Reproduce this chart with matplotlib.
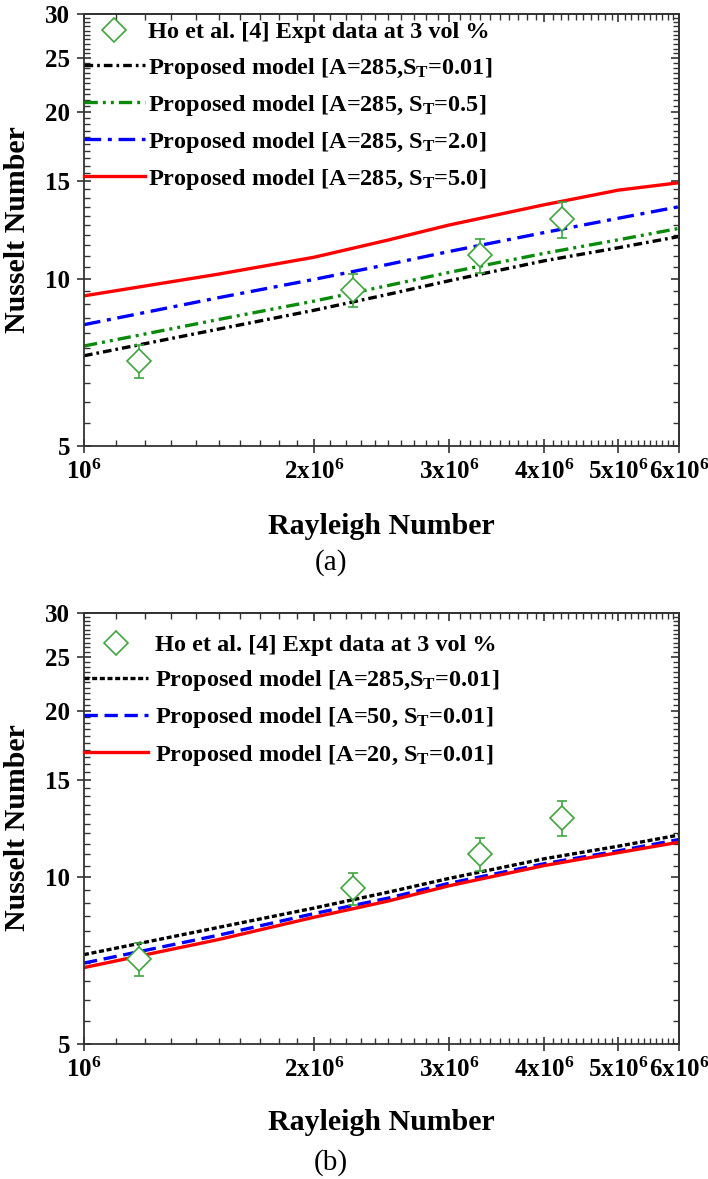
import numpy as np
import matplotlib
matplotlib.use("Agg")
import matplotlib.pyplot as plt
from matplotlib.ticker import FixedLocator, FixedFormatter, NullFormatter

plt.rcParams["font.family"] = "Liberation Serif"
plt.rcParams["font.weight"] = "bold"
plt.rcParams["mathtext.fontset"] = "custom"
plt.rcParams["mathtext.rm"] = "Liberation Serif:bold"
plt.rcParams["mathtext.bf"] = "Liberation Serif:bold"
plt.rcParams["mathtext.it"] = "Liberation Serif:bold:italic"

# experimental points (Ho et al., 3 vol %)
ra_exp = np.array([1.18, 2.25, 3.3, 4.22]) * 1e6
nu_exp = [7.12, 9.55, 11.02, 12.8]
nu_err = [0.49, 0.64, 0.77, 0.93]

# model curves, sampled along Ra
ra_model = np.array([1.0, 1.5, 2.0, 2.5, 3.0, 4.0, 5.0, 6.0]) * 1e6
# panel (a): A=285, varying S_T
nu_st001 = [7.27, 8.12, 8.78, 9.38, 9.92, 10.78, 11.38, 11.92]
nu_st05 = [7.57, 8.45, 9.12, 9.73, 10.27, 11.12, 11.76, 12.33]
nu_st2 = [8.27, 9.25, 9.98, 10.62, 11.2, 12.12, 12.86, 13.49]
nu_st5 = [9.32, 10.2, 10.94, 11.75, 12.5, 13.6, 14.45, 14.9]
# panel (b): S_T=0.01, varying A
nu_a285 = [7.25, 8.12, 8.8, 9.4, 9.95, 10.8, 11.38, 11.92]
nu_a50 = [7.0, 7.86, 8.6, 9.17, 9.75, 10.58, 11.16, 11.7]
nu_a20 = [6.87, 7.72, 8.47, 9.06, 9.65, 10.5, 11.08, 11.57]

labels_a = ["Ho et al. [4] Expt data at 3 vol %",
            r"Proposed model [A=285,$\mathrm{S_T}$=0.01]",
            r"Proposed model [A=285, $\mathrm{S_T}$=0.5]",
            r"Proposed model [A=285, $\mathrm{S_T}$=2.0]",
            r"Proposed model [A=285, $\mathrm{S_T}$=5.0]"]
labels_b = ["Ho et al. [4] Expt data at 3 vol %",
            r"Proposed model [A=285,$\mathrm{S_T}$=0.01]",
            r"Proposed model [A=50, $\mathrm{S_T}$=0.01]",
            r"Proposed model [A=20, $\mathrm{S_T}$=0.01]"]

x_ticks = np.array([1, 2, 3, 4, 5, 6]) * 1e6
x_tick_labels = [r"$\mathrm{10^6}$", r"$\mathrm{2x10^6}$", r"$\mathrm{3x10^6}$",
                 r"$\mathrm{4x10^6}$", r"$\mathrm{5x10^6}$", r"$\mathrm{6x10^6}$"]
y_ticks = [5, 10, 15, 20, 25, 30]

EXP_GREEN = "#3fa63f"
W, H = 708, 1179

fig = plt.figure(figsize=(W / 100, H / 100), dpi=100)


def px_axes(x0, y0, x1, y1):
    return fig.add_axes([x0 / W, 1 - y1 / H, (x1 - x0) / W, (y1 - y0) / H])


def setup_axes(ax):
    ax.set_xscale("log")
    ax.set_yscale("log")
    ax.set_xlim(1e6, 6e6)
    ax.set_ylim(5, 30)
    xminor = [v for v in np.arange(1.0, 6.001, 0.1) * 1e6 if not np.any(np.isclose(v, x_ticks))]
    yminor = [v for v in np.arange(5, 30.01, 0.5) if v not in y_ticks]
    ax.xaxis.set_major_locator(FixedLocator(x_ticks))
    ax.xaxis.set_major_formatter(FixedFormatter(x_tick_labels))
    ax.xaxis.set_minor_locator(FixedLocator(xminor))
    ax.xaxis.set_minor_formatter(NullFormatter())
    ax.yaxis.set_major_locator(FixedLocator(y_ticks))
    ax.yaxis.set_major_formatter(FixedFormatter([str(v) for v in y_ticks]))
    ax.yaxis.set_minor_locator(FixedLocator(yminor))
    ax.yaxis.set_minor_formatter(NullFormatter())
    ax.tick_params(which="major", direction="inout", length=10, width=1.2,
                   labelsize=18, color="#333333")
    ax.tick_params(which="minor", direction="in", length=4, width=1.0, color="#333333")
    ax.tick_params(axis="x", which="major", pad=5)
    ax.tick_params(axis="y", which="major", pad=5)
    for s in ax.spines.values():
        s.set_linewidth(1.3)
        s.set_color("#333333")
    # inward ticks on top and right
    top = ax.secondary_xaxis("top")
    top.xaxis.set_major_locator(FixedLocator(x_ticks))
    top.xaxis.set_minor_locator(FixedLocator(xminor))
    top.xaxis.set_major_formatter(NullFormatter())
    top.xaxis.set_minor_formatter(NullFormatter())
    right = ax.secondary_yaxis("right")
    right.yaxis.set_major_locator(FixedLocator(y_ticks))
    right.yaxis.set_minor_locator(FixedLocator(yminor))
    right.yaxis.set_major_formatter(NullFormatter())
    right.yaxis.set_minor_formatter(NullFormatter())
    for sec in (top, right):
        sec.tick_params(which="major", direction="in", length=6, width=1.2, color="#333333")
        sec.tick_params(which="minor", direction="in", length=4, width=1.0, color="#333333")
        for s in sec.spines.values():
            s.set_linewidth(1.3)
            s.set_color("#333333")


def draw_exp(ax, label):
    ax.errorbar(ra_exp, nu_exp, yerr=nu_err, fmt="none", ecolor=EXP_GREEN,
                elinewidth=1.2, capsize=3.5, capthick=1.2, zorder=4)
    ax.plot(ra_exp, nu_exp, ls="none", marker="D", ms=12.5, mfc="white",
            mec=EXP_GREEN, mew=1.2, label=label, zorder=5)


def add_legend(ax, top, hlen, hpad, spacing):
    ax.legend(loc="upper left", bbox_to_anchor=(0, top), frameon=False,
              fontsize=17.5, handlelength=hlen, handletextpad=hpad,
              labelspacing=spacing, borderaxespad=0, borderpad=0)


def panel_labels(y_mid, y_xlabel, y_tag, tag):
    fig.text(18 / W, 1 - y_mid / H, "Nusselt Number", rotation=90, ha="center",
             va="center", fontsize=21.5, fontweight="bold")
    fig.text(381 / W, 1 - y_xlabel / H, "Rayleigh Number", ha="center", va="center",
             fontsize=21.5, fontweight="bold")
    fig.text(331 / W, 1 - y_tag / H, tag, ha="center", va="center",
             fontsize=21, fontweight="normal")


lw = 2.4

# ---- panel (a) ----
ax_a = px_axes(84, 14, 679, 446)
setup_axes(ax_a)
draw_exp(ax_a, labels_a[0])
ax_a.plot(ra_model, nu_st001, color="black", lw=lw, ls=(0, (2.6, 1.2, 0.8, 1.2)), label=labels_a[1])
ax_a.plot(ra_model, nu_st05, color="#0a8a0a", lw=lw, ls=(0, (4, 1.5, 0.9, 1.5, 0.9, 1.5)), label=labels_a[2])
ax_a.plot(ra_model, nu_st2, color="#0000ff", lw=lw, ls=(0, (5, 2, 1.2, 2)), label=labels_a[3])
ax_a.plot(ra_model, nu_st5, color="#ff0000", lw=lw, ls="-", label=labels_a[4])
add_legend(ax_a, 0.983, 2.5, 0.12, 0.5)
panel_labels(230, 527, 563, "(a)")

# ---- panel (b) ----
ax_b = px_axes(84, 613, 679, 1044)
setup_axes(ax_b)
draw_exp(ax_b, labels_b[0])
ax_b.plot(ra_model, nu_a285, color="black", lw=lw, ls=(0, (1.5, 0.8)), label=labels_b[1])
ax_b.plot(ra_model, nu_a50, color="#0000ff", lw=lw, ls=(0, (4, 2)), label=labels_b[2])
ax_b.plot(ra_model, nu_a20, color="#ff0000", lw=lw, ls="-", label=labels_b[3])
add_legend(ax_b, 0.951, 2.63, 0.29, 0.5)
panel_labels(828, 1122, 1163, "(b)")

fig.savefig("out.png", dpi=100)
